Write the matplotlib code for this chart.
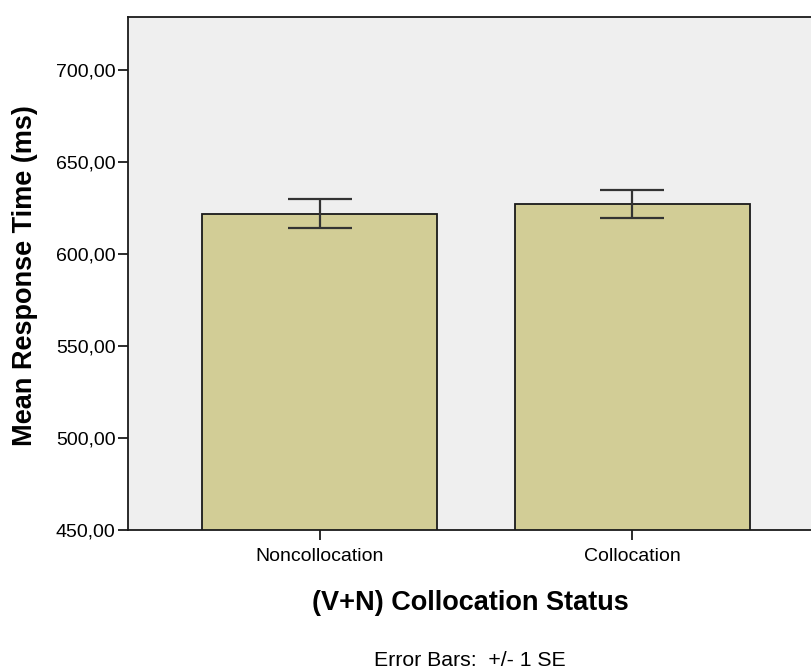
import matplotlib
matplotlib.use("Agg")
import matplotlib.pyplot as plt

categories = ["Noncollocation", "Collocation"]
means = [622.0, 627.3]
se = [7.9, 7.6]
yticks = [450, 500, 550, 600, 650, 700]
ytick_labels = ["450,00", "500,00", "550,00", "600,00", "650,00", "700,00"]

plt.rcParams['font.family'] = ['Liberation Sans', 'DejaVu Sans']

fig = plt.figure(figsize=(8.11, 6.71), dpi=100)
ax = fig.add_axes([128/811, (671-530)/671, (824-128)/811, (530-17)/671])
ax.set_facecolor('#efefef')

x = list(range(len(categories)))
ax.bar(x, means, width=0.753, color='#d2cd96', edgecolor='#1a1a1a', linewidth=1.3, zorder=2)
ax.errorbar(x, means, yerr=se, fmt='none', ecolor='#333333', elinewidth=1.6,
            capsize=23, capthick=1.6, zorder=3)

ax.set_xlim(-0.615, 1.615)
ax.set_ylim(450, 728.8)
ax.set_yticks(yticks)
ax.set_yticklabels(ytick_labels)
ax.set_xticks(x)
ax.set_xticklabels(categories)

for s in ['top', 'left', 'bottom', 'right']:
    ax.spines[s].set_linewidth(1.3)
    ax.spines[s].set_color('#1a1a1a')

ax.tick_params(axis='y', length=7, width=1.3, labelsize=14, pad=2, color='#1a1a1a')
ax.tick_params(axis='x', length=7, width=1.3, labelsize=14, pad=6, color='#1a1a1a')

ax.set_xlabel("(V+N) Collocation Status", fontsize=19.5, fontweight='bold')
ax.set_ylabel("Mean Response Time (ms)", fontsize=19.5, fontweight='bold')
ax.xaxis.set_label_coords((470-128)/(824-128), -(590-530)/(530-17))
ax.yaxis.set_label_coords(-(128-38)/(824-128), (530-276)/(530-17))

fig.text(470/811, 1-660/671, "Error Bars:  +/- 1 SE", ha='center', va='center', fontsize=15.3)

fig.savefig("out.png", dpi=100)
